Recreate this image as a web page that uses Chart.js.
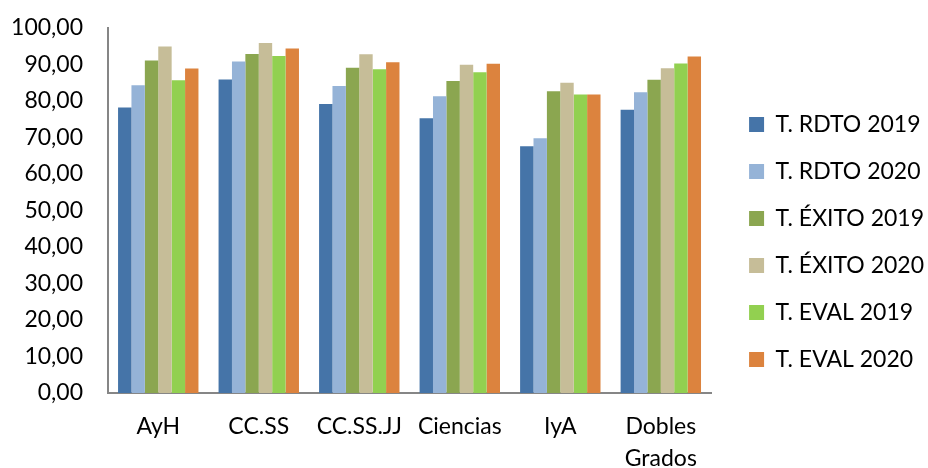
<!DOCTYPE html>
<html>
<head>
<meta charset="utf-8">
<script src="https://cdn.jsdelivr.net/npm/chart.js@4"></script>
<style>
  body { margin: 0; background: #fff; }
  #wrap { width: 928px; height: 468px; position: relative; }
</style>
</head>
<body>
<div id="wrap"><canvas id="myChart"></canvas></div>
<script>
const categories = ['AyH', 'CC.SS', 'CC.SS.JJ', 'Ciencias', 'IyA', ['Dobles', 'Grados']];
const yTicks = [0, 10, 20, 30, 40, 50, 60, 70, 80, 90, 100];

const rdto2019 = [78.2, 85.9, 79.2, 75.3, 67.6, 77.6];
const rdto2020 = [84.3, 90.8, 84.1, 81.3, 69.8, 82.4];
const exito2019 = [91.1, 92.9, 89.1, 85.5, 82.7, 85.8];
const exito2020 = [94.9, 95.9, 92.8, 89.9, 85.0, 89.0];
const eval2019 = [85.7, 92.3, 88.7, 87.9, 81.8, 90.3];
const eval2020 = [88.9, 94.4, 90.6, 90.2, 81.8, 92.2];

const ctx = document.getElementById('myChart').getContext('2d');

// push the legend a bit away from the plot, like in the original
const legendShift = {
    id: 'legendShift',
    afterLayout(chart) {
        chart.legend.left += 14;
        chart.legend.right += 14;
        chart.legend.top -= 6;
        chart.legend.bottom -= 6;
    }
};

const myChart = new Chart(ctx, {
    type: 'bar',
    data: {
        labels: categories,
        datasets: [
            { label: 'T. RDTO 2019', data: rdto2019, backgroundColor: '#4574A8' },
            { label: 'T. RDTO 2020', data: rdto2020, backgroundColor: '#95B3D7' },
            { label: 'T. ÉXITO 2019', data: exito2019, backgroundColor: '#8BA650' },
            { label: 'T. ÉXITO 2020', data: exito2020, backgroundColor: '#C6BD98' },
            { label: 'T. EVAL 2019', data: eval2019, backgroundColor: '#92D050' },
            { label: 'T. EVAL 2020', data: eval2020, backgroundColor: '#DC833E' }
        ]
    },
    options: {
        responsive: true,
        maintainAspectRatio: false,
        animation: false,
        datasets: {
            bar: { categoryPercentage: 0.8, barPercentage: 1.0 }
        },
        layout: { padding: { left: 8, top: 28, right: 8, bottom: 0 } },
        plugins: {
            tooltip: { enabled: false },
            legend: {
                position: 'right',
                align: 'center',
                labels: {
                    boxWidth: 15,
                    boxHeight: 15,
                    padding: 24,
                    color: '#000',
                    font: { family: 'Lato', size: 23 }
                }
            }
        },
        scales: {
            x: {
                afterFit: (axis) => { axis.height = 75; },
                grid: { display: false, drawTicks: false },
                border: { display: true, color: '#868686', width: 2 },
                ticks: {
                    color: '#000',
                    padding: 18,
                    maxRotation: 0,
                    font: { family: 'Lato', size: 23, lineHeight: 1.37 }
                }
            },
            y: {
                min: 0,
                max: 100,
                afterFit: (axis) => {
                    axis.width = 100;
                    axis.paddingTop = 0;
                    axis.paddingBottom = 0;
                },
                afterBuildTicks: (axis) => { axis.ticks = yTicks.map(v => ({ value: v })); },
                grid: { display: false, drawTicks: false },
                border: { display: true, color: '#868686', width: 2 },
                ticks: {
                    color: '#000',
                    padding: 25,
                    font: { family: 'Lato', size: 23 },
                    callback: (v) => v.toFixed(2).replace('.', ',')
                }
            }
        }
    },
    plugins: [legendShift]
});
</script>
</body>
</html>
